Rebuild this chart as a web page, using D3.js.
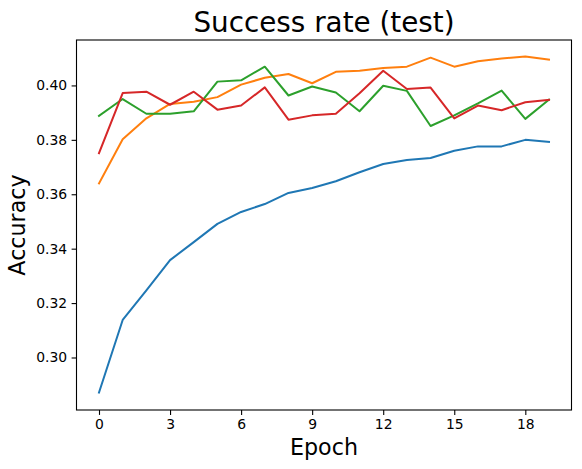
<!DOCTYPE html>
<meta charset="utf-8">
<title>Success rate (test)</title>
<style>
    body { margin: 0; background: #fff; }
    text { font-family: "DejaVu Sans", sans-serif; }
</style>
<body>
<script src="https://d3js.org/d3.v7.min.js"></script>
<script>
    var width = 582;
    var height = 469;

    // data
    var epochs = d3.range(20);
    var blue   = [0.2871, 0.3138, 0.3247, 0.3358, 0.3424, 0.3491, 0.3535, 0.3564, 0.3605, 0.3623,
                  0.3648, 0.3681, 0.3711, 0.3726, 0.3733, 0.3760, 0.3776, 0.3776, 0.3800, 0.3792];
    var orange = [0.3640, 0.3802, 0.3879, 0.3932, 0.3940, 0.3957, 0.4003, 0.4028, 0.4042, 0.4008,
                  0.4050, 0.4054, 0.4064, 0.4069, 0.4102, 0.4069, 0.4089, 0.4099, 0.4106, 0.4095];
    var green  = [0.3888, 0.3950, 0.3896, 0.3896, 0.3905, 0.4014, 0.4019, 0.4069, 0.3963, 0.3996,
                  0.3974, 0.3905, 0.3999, 0.3980, 0.3851, 0.3890, 0.3934, 0.3981, 0.3877, 0.3948];
    var red    = [0.3751, 0.3972, 0.3977, 0.3929, 0.3977, 0.3911, 0.3926, 0.3993, 0.3874, 0.3890,
                  0.3896, 0.3971, 0.4054, 0.3987, 0.3992, 0.3879, 0.3926, 0.3909, 0.3938, 0.3947];
    var xTicks = [0, 3, 6, 9, 12, 15, 18];
    var yTicks = [0.30, 0.32, 0.34, 0.36, 0.38, 0.40];

    var series = [
        {values: blue,   color: "#1f77b4"},
        {values: orange, color: "#ff7f0e"},
        {values: green,  color: "#2ca02c"},
        {values: red,    color: "#d62728"}
    ];

    // plot area (don't call it "top", that's window.top)
    var plot = {left: 76.5, right: 571.5, top: 40, bottom: 410};

    var x = d3.scaleLinear().domain([-0.95, 19.95]).range([plot.left, plot.right]);
    var y = d3.scaleLinear().domain([0.2807, 0.4167]).range([plot.bottom, plot.top]);

    var svg = d3.select("body").append("svg")
        .attr("width", width)
        .attr("height", height);

    // lines
    var line = d3.line()
        .x(function(d, i) { return x(epochs[i]); })
        .y(function(d) { return y(d); });

    svg.append("g")
        .selectAll("path")
        .data(series)
        .enter().append("path")
        .attr("d", function(s) { return line(s.values); })
        .attr("fill", "none")
        .attr("stroke", function(s) { return s.color; })
        .attr("stroke-width", 2)
        .attr("stroke-linejoin", "round")
        .attr("stroke-linecap", "square");

    // axes
    var xAxis = svg.append("g")
        .attr("transform", "translate(0," + plot.bottom + ")")
        .call(d3.axisBottom(x).tickValues(xTicks).tickSize(4.9).tickPadding(4.5).tickFormat(d3.format("d")));

    var yAxis = svg.append("g")
        .attr("transform", "translate(" + plot.left + ",0)")
        .call(d3.axisLeft(y).tickValues(yTicks).tickSize(4.9).tickPadding(4.5).tickFormat(d3.format(".2f")));

    [xAxis, yAxis].forEach(function(a) {
        a.select(".domain").remove();
        a.selectAll(".tick line").attr("stroke", "#000").attr("stroke-width", 1.1);
        a.selectAll(".tick text").attr("fill", "#000").style("font-size", "13.9px")
            .style("font-family", "'DejaVu Sans', sans-serif");
    });

    // frame
    svg.append("rect")
        .attr("x", plot.left)
        .attr("y", plot.top)
        .attr("width", plot.right - plot.left)
        .attr("height", plot.bottom - plot.top)
        .attr("fill", "none")
        .attr("stroke", "#000")
        .attr("stroke-width", 1.1);

    // labels
    svg.append("text")
        .attr("x", (plot.left + plot.right) / 2)
        .attr("y", 31.5)
        .attr("text-anchor", "middle")
        .style("font-size", "27.8px")
        .text("Success rate (test)");

    svg.append("text")
        .attr("x", (plot.left + plot.right) / 2)
        .attr("y", 455)
        .attr("text-anchor", "middle")
        .style("font-size", "22.2px")
        .text("Epoch");

    svg.append("text")
        .attr("transform", "translate(25," + (plot.top + plot.bottom) / 2 + ") rotate(-90)")
        .attr("text-anchor", "middle")
        .style("font-size", "22.2px")
        .text("Accuracy");
</script>
</body>
